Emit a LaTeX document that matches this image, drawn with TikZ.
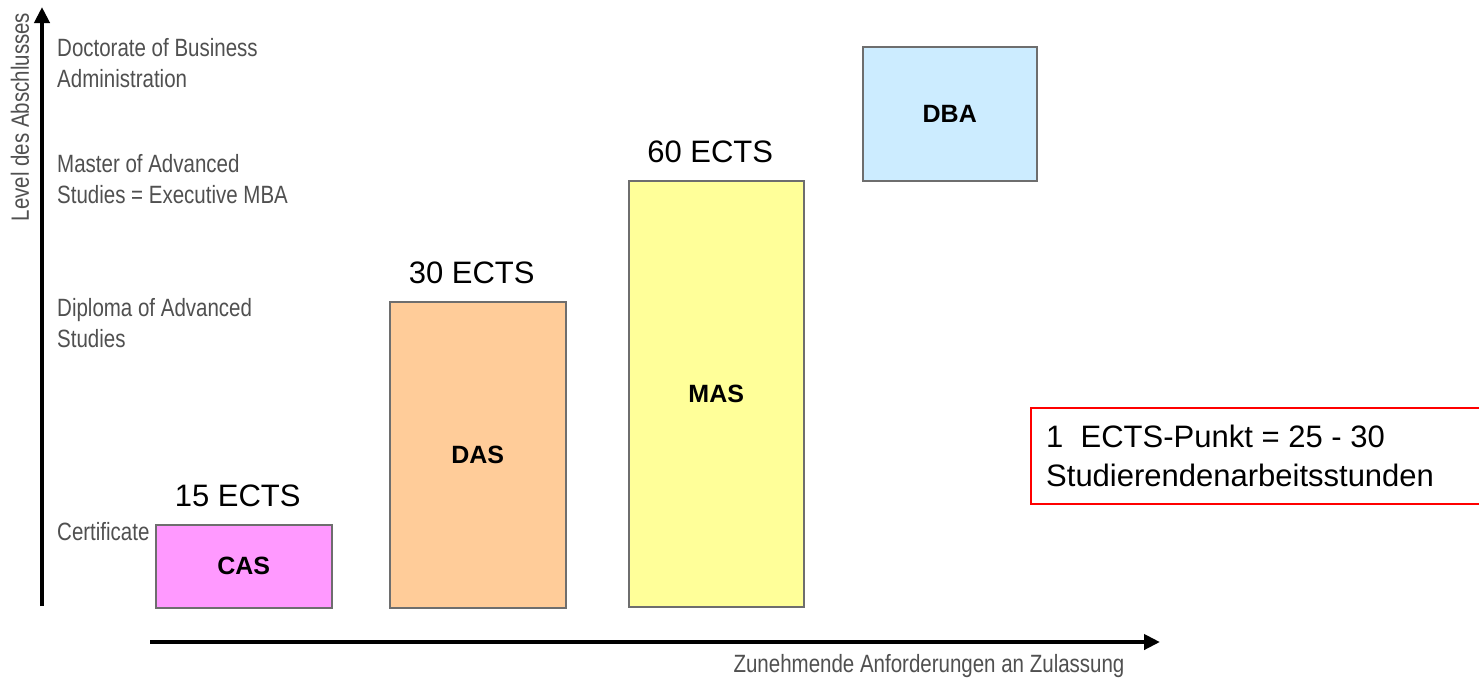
\documentclass[tikz,border=0pt]{standalone}
\usepackage{fontspec}
\setmainfont{Liberation Sans}
\newfontfamily\grayf[FakeStretch=0.82]{Liberation Sans}
\usetikzlibrary{arrows.meta}
\definecolor{casfill}{HTML}{FF99FF}
\definecolor{dasfill}{HTML}{FFCC99}
\definecolor{masfill}{HTML}{FFFF99}
\definecolor{dbafill}{HTML}{CCECFF}
\definecolor{boxline}{HTML}{6E6E6E}
\definecolor{graytxt}{HTML}{505050}
\tikzset{
  lvlbox/.style={draw=boxline, line width=1.5pt, anchor=north west, inner sep=0pt,
     font=\bfseries\fontsize{25}{30}\selectfont},
  ects/.style={anchor=base, font=\fontsize{31}{36}\selectfont, inner sep=0pt},
  lvltxt/.style={anchor=base west, align=left, inner sep=0pt, text=graytxt,
     font=\grayf\fontsize{25}{30.5}\selectfont},
  axis/.style={line width=4.5pt, -{Triangle[length=16pt,width=15pt]}},
}
\begin{document}
\begin{tikzpicture}[x=1pt,y=-1pt]
\useasboundingbox (0,0) rectangle (1479,681);
\clip (0,0) rectangle (1479,681);
\fill[white] (0,0) rectangle (1479,681);

% axes
\coordinate (yb) at (42,606);
\coordinate (yt) at (42,7);
\coordinate (xl) at (150,642);
\coordinate (xr) at (1160,642);
\draw[axis] (yb) -- (yt);
\draw[axis] (xl) -- (xr);
\node[rotate=90, anchor=center, inner sep=0pt, text=graytxt,
      font=\grayf\fontsize{25}{30}\selectfont] (ylab) at (20,117) {Level des Abschlusses};
\node[anchor=base, inner sep=0pt, text=graytxt,
      font=\grayf\fontsize{25}{30}\selectfont] (xlab) at (929,672) {Zunehmende Anforderungen an Zulassung};

% level texts (base = baseline of last line)
\node[lvltxt] (tdba) at (57,87) {Doctorate of Business\\Administration};
\node[lvltxt] (tmas) at (57,203) {Master of Advanced\\Studies = Executive MBA};
\node[lvltxt] (tdas) at (57,347) {Diploma of Advanced\\Studies};
\node[lvltxt] (tcas) at (57,540) {Certificate};

% boxes
\node[lvlbox, fill=casfill, minimum width=176pt, minimum height=83pt] (cas) at (155,524) {CAS};
\node[lvlbox, fill=dasfill, minimum width=176pt, minimum height=306pt] (das) at (389,301) {DAS};
\node[lvlbox, fill=masfill, minimum width=175pt, minimum height=426pt] (mas) at (628,180) {MAS};
\node[lvlbox, fill=dbafill, minimum width=174pt, minimum height=134pt] (dba) at (862,46) {DBA};

% ECTS labels
\node[ects] (e15) at ([xshift=-6pt,yshift=18pt]cas.north) {15 ECTS};
\node[ects] (e30) at ([xshift=-6pt,yshift=18pt]das.north) {30 ECTS};
\node[ects] (e60) at ([xshift=-6pt,yshift=18pt]mas.north) {60 ECTS};

% note box
\node[draw=red, line width=2pt, anchor=north west, minimum width=480pt, minimum height=96pt,
      inner sep=0pt] (note) at (1030,407) {};
\node[anchor=base west, align=left, inner sep=0pt, font=\fontsize{31}{39}\selectfont]
      (notetxt) at (1046,486) {1\ \ ECTS-Punkt = 25 - 30\\Studierendenarbeitsstunden};
\end{tikzpicture}
\end{document}
